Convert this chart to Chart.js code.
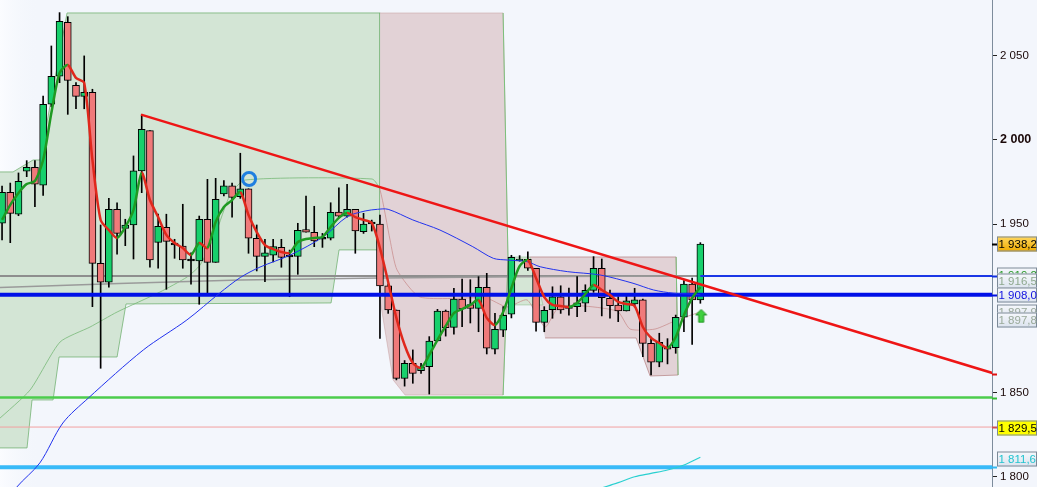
<!DOCTYPE html>
<html>
<head>
<meta charset="utf-8">
<script src="https://cdn.jsdelivr.net/npm/chart.js@4.4.1/dist/chart.umd.min.js"></script>
<style>
  html, body { margin: 0; padding: 0; background: #f3f6fc; }
  #wrap { width: 1037px; height: 487px; position: relative; }
</style>
</head>
<body>
<div id="wrap"><canvas id="c"></canvas></div>
<script>
// daily candles, left to right
const opens = [1950.5,1968.9,1955.9,1981.4,1983.8,1973.1,2021.2,2037.8,2069.8,2032.4,2025.9,2028.3,1926.7,1915.5,1958.8,1947.5,1949.5,1981.6,2005.5,1939.2,1948.1,1937.6,1937.0,1928.1,1928.1,1952.9,1927.3,1967.9,1972.8,1966.3,1971.0,1941.6,1930.9,1931.5,1936.2,1930.5,1930.9,1946.7,1945.2,1941.0,1941.6,1957.2,1954.7,1958.8,1945.5,1950.1,1950.1,1913.3,1899.0,1858.4,1867.4,1863.0,1865.3,1880.6,1898.4,1888.7,1905.5,1902.2,1900.0,1912.5,1875.7,1887.1,1896.5,1928.1,1929.1,1923.8,1891.7,1899.2,1906.9,1900.0,1901.0,1903.0,1910.7,1923.8,1906.0,1902.0,1898.4,1902.6,1905.0,1879.2,1868.0,1877.2,1876.6,1894.7,1914.4,1905.0];
const highs = [1972.6,1974.4,1980.4,1987.7,1987.7,2026.1,2055.8,2075.6,2073.2,2034.0,2049.9,2030.1,1949.5,1965.3,1962.7,1952.9,1990.5,2015.0,2005.5,1955.9,1955.9,1941.0,1961.8,1933.0,1954.8,1976.6,1977.2,1975.8,1974.4,1992.1,1971.0,1949.5,1941.0,1941.0,1941.0,1934.6,1950.5,1966.7,1960.6,1944.5,1962.7,1971.6,1973.7,1958.8,1956.4,1952.4,1955.4,1914.5,1899.0,1869.0,1875.3,1867.4,1883.2,1899.4,1899.0,1911.9,1917.4,1917.0,1918.8,1920.8,1897.0,1901.0,1931.5,1931.3,1933.6,1923.8,1901.0,1912.8,1913.4,1912.0,1918.8,1914.0,1930.7,1929.3,1910.9,1906.9,1907.3,1911.9,1905.5,1883.0,1885.2,1882.0,1896.0,1916.5,1918.0,1939.0];
const lows = [1940.6,1939.0,1955.0,1978.2,1960.4,1967.1,2019.7,2034.0,2015.2,2018.5,2018.5,1901.0,1864.4,1912.5,1932.1,1937.2,1929.3,1968.7,1924.4,1923.9,1911.3,1929.7,1923.8,1914.3,1902.4,1909.3,1927.3,1966.7,1954.1,1965.3,1932.7,1922.2,1915.8,1927.5,1924.4,1906.9,1920.2,1945.3,1936.6,1936.2,1940.6,1953.8,1954.2,1932.7,1944.5,1945.9,1882.2,1897.0,1857.5,1853.8,1855.5,1861.4,1849.1,1880.6,1883.5,1884.6,1889.1,1891.3,1886.1,1872.9,1872.9,1883.2,1894.3,1928.0,1922.5,1886.5,1886.1,1894.1,1897.0,1896.0,1895.0,1898.0,1909.5,1895.5,1894.1,1892.1,1898.4,1900.8,1871.3,1860.4,1865.3,1867.0,1873.3,1886.1,1878.6,1903.0];
const closes = [1968.9,1956.4,1975.4,1983.8,1973.7,2021.2,2037.8,2070.4,2035.4,2025.9,2028.3,1926.7,1915.5,1958.8,1944.5,1949.5,1981.6,2006.3,1928.7,1948.7,1939.8,1937.6,1928.7,1928.1,1952.9,1927.3,1964.7,1972.8,1965.9,1971.0,1941.6,1930.9,1933.0,1936.6,1930.3,1930.5,1946.3,1945.3,1940.0,1941.0,1957.0,1954.8,1958.8,1945.9,1950.1,1950.1,1913.3,1899.0,1858.4,1867.4,1861.4,1865.3,1880.6,1898.4,1888.5,1905.5,1899.6,1900.0,1912.5,1876.3,1887.5,1895.9,1930.3,1929.1,1923.8,1891.7,1898.8,1906.9,1899.0,1901.4,1903.2,1910.7,1923.8,1906.4,1901.6,1898.4,1904.5,1905.0,1879.2,1868.0,1879.8,1875.8,1894.7,1914.4,1905.0,1938.2];

// short moving average (red falling / green rising)
const fastMa = [1952.5,1961.4,1968.5,1973.8,1975.6,1988.1,2016.0,2039.8,2044.5,2036.8,2033.8,1988.1,1952.5,1946.5,1941.8,1948.3,1958.4,1980.4,1964.3,1954.2,1943.6,1938.8,1935.8,1931.7,1938.8,1935.8,1951.3,1960.2,1964.3,1969.1,1955.4,1945.3,1937.6,1935.2,1933.5,1932.9,1939.4,1941.2,1941.8,1942.4,1948.3,1953.7,1956.6,1954.2,1952.5,1950.7,1935.8,1915.6,1894.3,1878.2,1867.5,1864.6,1872.3,1881.2,1889.5,1897.2,1899.6,1902.0,1905.0,1894.3,1890.1,1897.8,1912.1,1925.1,1928.7,1918.0,1906.7,1902.0,1901.4,1900.8,1903.2,1908.5,1913.9,1910.9,1907.9,1903.8,1902.6,1901.4,1888.9,1882.4,1879.4,1876.5,1883.0,1896.0,1906.1,1912.7];

// long moving average (blue)
const slowMaX = [0.9,1.8,4.6,7.4,10.5,17.2,22.5,26.5,29.0,31.4,35.1,39.1,42.0,44.2,45.7,47.0,50.0,53.3,57.3,59.8,61.5,63.9,65.5,68.8,72.8,76.8,79.3,81.7,83.8,85.0];
const slowMaY = [1786.2,1793.9,1808.2,1831.9,1846.7,1875.3,1893.1,1909.1,1918.3,1924.5,1931.7,1942.5,1954.4,1957.8,1958.8,1958.8,1952.5,1946.5,1936.6,1929.7,1928.7,1927.7,1924.7,1921.8,1919.8,1914.9,1910.9,1909.0,1908.5,1908.0];

// cyan indicator line (bottom right)
const cyanX = [71.5,75,77,79,81,83,85];
const cyanY = [1791.0,1796.5,1800.0,1802.0,1804.0,1807.0,1811.6];

// trailing band line
const bandX = [-0.5,3.41,7.06,10.71,14.0,19.23,22.52,24.1,25.93,27.75,29.58,45.04,46.01,47.23,48.08,50.88,58.92,61.47,63.91,66.10,67.93,74.86,76.44,79.49,82.17,84.97];
const bandY = [1833.7,1851.5,1880.0,1888.9,1897.8,1909.7,1918.6,1925.7,1943.6,1967.3,1976.2,1976.8,1970.3,1940.6,1922.8,1906.7,1906.1,1900.8,1905.0,1888.9,1901.4,1898.4,1887.7,1887.7,1893.1,1897.8];

// slow grey curve
const greyX = [-0.5,28.97,63.06,84.97];
const greyY = [1912.4,1916.8,1918.8,1919.2];

// shaded zones (index, price)
const greenZoneX = [-0.5,1.34,3.77,4.63,7.91,46.01,46.01,41.02,40.05,15.09,14.0,6.94,6.21,3.65,3.04,-0.5];
const greenZoneY = [1981.0,1981.0,1988.1,1988.1,2075.4,2075.4,1934.7,1934.7,1903.2,1902.6,1871.1,1871.1,1845.6,1845.6,1817.1,1817.1];
const pinkZoneX = [46.01,60.99,61.59,60.99,49.06,47.6,46.01];
const pinkZoneY = [2075.4,2075.4,1928.7,1848.5,1848.5,1857.5,1905.0];
const greenZone2X = [61.59,64.27,65.85,61.59];
const greenZone2Y = [1930.5,1930.5,1902.0,1902.0];
const pinkZone2X = [64.27,82.05,82.29,78.88,77.18,66.10];
const pinkZone2Y = [1930.5,1930.5,1860.4,1859.8,1882.4,1882.4];
const edgeX = [60.99,61.59,60.99];
const edgeY = [2075.4,1928.7,1848.5];
const edge2X = [82.05,82.29];
const edge2Y = [1930.5,1860.4];

// trend line
const trendX = [16.92, 121];
const trendY = [2015.0, 1860.9];

// horizontal levels
const levelBlue = 1908.0;
const levelUpper = 1919.2;
const levelGreen = 1847.0;
const levelPink = 1829.5;
const levelCyan = 1805.7;

// markers
const circleAt = {x: 30.07, y: 1976.8};
const arrowAt = {x: 85.1, y: 1895.5};

// axis
const axisTicks = [1800, 1850, 1950, 2000, 2050];
const xMin = -0.25, xMax = 120.5;
const yMin = 1793.9, yMax = 2083.1;

// price tags on the right axis
const tagValues = [1938.2, 1919.2, 1916.5, 1908.0, 1897.9, 1897.8, 1829.5, 1811.6];
const tagInk = ['#000', '#2a9a2a', '#8ea88e', '#1010e0', '#9aa89a', '#9aaa9a', '#000', '#22c4d0'];
const tagFill = ['gold', 'pale', 'pale', 'pale', 'pale', 'pale', 'yellow', 'pale'];
const tagShift = [0, -1, 0, 0, 0, 8, 1, 2];

const markValues = [1938.2, 1919.2, 1908.0, 1860.9, 1847.0, 1829.5, 1805.7];
const markColors = ['#000', '#1030e0', '#0010e0', '#e01010', '#33bb33', '#d05050', '#33b8f0'];

function pts(xs, ys) { return xs.map((x, i) => ({x: x, y: ys[i]})); }
function fmtPrice(v, dec) {
  const th = Math.floor(v / 1000);
  let rest = (v - th * 1000).toFixed(dec);
  rest = rest.padStart(dec ? 5 : 3, '0').replace('.', ',');
  return th + ' ' + rest;
}

const bodies = opens.map((o, i) => ({x: i, y: [Math.min(o, closes[i]), Math.max(o, closes[i])]}));
const bodyColors = opens.map((o, i) => closes[i] > o ? '#17d06c' : (closes[i] < o ? '#f07a7a' : '#000'));
const wicks = highs.map((h, i) => ({x: i, y: [lows[i], h]}));

function hline(v, x0, x1, color, w, order) {
  return {type: 'line', data: [{x: x0, y: v}, {x: x1, y: v}], borderColor: color, borderWidth: w,
    pointRadius: 0, fill: false, order: order};
}

function arrowImg() {
  const c = document.createElement('canvas');
  c.width = 13; c.height = 15;
  const g = c.getContext('2d');
  g.beginPath();
  g.moveTo(6.5, 1); g.lineTo(12, 6.5); g.lineTo(9, 6.5); g.lineTo(9, 14);
  g.lineTo(4, 14); g.lineTo(4, 6.5); g.lineTo(1, 6.5); g.closePath();
  g.fillStyle = '#3fd03f'; g.fill();
  g.strokeStyle = '#1f8f1f'; g.lineWidth = 1; g.stroke();
  return c;
}

const FONT = '"Liberation Sans", Arial, sans-serif';

const decor = {
  id: 'decor',
  beforeDraw(chart) {
    const ctx = chart.ctx;
    ctx.save();
    ctx.fillStyle = '#f3f6fc';
    ctx.fillRect(0, 0, chart.width, chart.height);
    const g = ctx.createLinearGradient(0, 0, 40, 0);
    g.addColorStop(0, '#fbfcff');
    g.addColorStop(1, 'rgba(243,246,252,0)');
    ctx.fillStyle = g;
    ctx.fillRect(0, 0, 40, chart.height);
    ctx.restore();
  },
  afterDraw(chart) {
    const ctx = chart.ctx, ys = chart.scales.y, right = chart.chartArea.right;
    ctx.save();
    markValues.forEach((v, i) => {
      const py = Math.round(ys.getPixelForValue(v)) + 0.5;
      ctx.strokeStyle = markColors[i];
      ctx.lineWidth = 2;
      ctx.beginPath(); ctx.moveTo(right, py); ctx.lineTo(right + 5, py); ctx.stroke();
    });
    ctx.font = '11.5px ' + FONT;
    ctx.textBaseline = 'middle';
    tagValues.forEach((v, i) => {
      const cy = Math.round(ys.getPixelForValue(v)) + tagShift[i];
      const x = right + 5, w = 40, h = 15, top = cy - 7.5;
      let fill;
      if (tagFill[i] === 'gold') {
        fill = ctx.createLinearGradient(0, top, 0, top + h);
        fill.addColorStop(0, '#ffd860'); fill.addColorStop(1, '#eeaa00');
      } else if (tagFill[i] === 'yellow') {
        fill = '#ffff00';
      } else {
        fill = ctx.createLinearGradient(0, top, 0, top + h);
        fill.addColorStop(0, '#f6f8fc'); fill.addColorStop(1, '#dbe3ee');
      }
      ctx.fillStyle = fill;
      ctx.fillRect(x, top, w, h);
      ctx.strokeStyle = '#7c8a98';
      ctx.lineWidth = 1;
      ctx.strokeRect(x + 0.5, top + 0.5, w - 1, h - 1);
      ctx.fillStyle = tagInk[i];
      ctx.fillText(fmtPrice(v, 1), x + 1.5, cy + 0.5);
    });
    ctx.restore();
  }
};

new Chart(document.getElementById('c'), {
  type: 'bar',
  data: {
    datasets: [
      {type: 'line', data: pts(greenZoneX, greenZoneY), fill: 'shape', backgroundColor: '#d3e5d5',
        borderColor: 'rgba(110,175,110,0.75)', borderWidth: 1, pointRadius: 0, order: 20},
      {type: 'line', data: pts(pinkZoneX, pinkZoneY), fill: 'shape', backgroundColor: '#e2d2d6',
        borderColor: 'rgba(190,140,140,0.4)', borderWidth: 1, pointRadius: 0, order: 19},
      {type: 'line', data: pts(greenZone2X, greenZone2Y), fill: 'shape', backgroundColor: '#d5e6d6',
        borderColor: 'rgba(110,175,110,0.4)', borderWidth: 1, pointRadius: 0, order: 18},
      {type: 'line', data: pts(pinkZone2X, pinkZone2Y), fill: 'shape', backgroundColor: '#e2d2d6',
        borderColor: 'rgba(170,110,110,0.6)', borderWidth: 1, pointRadius: 0, order: 18},
      {type: 'line', data: pts(edgeX, edgeY), borderColor: '#7cc07c', borderWidth: 1, pointRadius: 0, fill: false, order: 17},
      {type: 'line', data: pts(edge2X, edge2Y), borderColor: '#7cc07c', borderWidth: 1, pointRadius: 0, fill: false, order: 17},
      {type: 'line', data: pts(bandX, bandY), borderWidth: 1, pointRadius: 0, fill: false, tension: 0.2, order: 16,
        segment: {borderColor: c => c.p0.parsed.x >= 45.9 ? 'rgba(200,140,140,0.75)' : 'rgba(120,185,120,0.8)'}},
      hline(levelPink, xMin - 1, xMax + 1, '#f2a0a0', 1, 15),
      {type: 'line', data: pts(greyX, greyY), borderColor: '#9a9a9a', borderWidth: 1.5, pointRadius: 0, fill: false, tension: 0.3, order: 15},
      hline(levelUpper, xMin - 1, 85, '#8e8e8e', 2, 15),
      {type: 'bar', data: wicks, backgroundColor: '#000', barThickness: 1, grouped: false, borderWidth: 0, order: 12},
      {type: 'bar', data: bodies, backgroundColor: bodyColors, borderColor: '#000', borderWidth: 1,
        borderSkipped: false, barThickness: 7, minBarLength: 2, grouped: false, order: 11},
      hline(levelUpper, 85, xMax + 1, '#1a36e6', 2, 8),
      hline(levelBlue, xMin - 1, xMax + 1, '#0010e8', 4, 8),
      hline(levelGreen, xMin - 1, xMax + 1, '#4ccc4c', 2.5, 8),
      hline(levelCyan, xMin - 1, xMax + 1, '#38baf8', 4, 8),
      {type: 'line', data: pts(cyanX, cyanY), borderColor: '#2ad0d0', borderWidth: 1.2, pointRadius: 0, fill: false, tension: 0.3, order: 7},
      {type: 'line', data: pts(slowMaX, slowMaY), borderColor: '#2233ee', borderWidth: 1, pointRadius: 0, fill: false, tension: 0.3, order: 6},
      {type: 'line', data: pts(trendX, trendY), borderColor: '#ee1515', borderWidth: 2.5, pointRadius: 0, fill: false, order: 4},
      {type: 'line', data: fastMa.map((v, i) => ({x: i, y: v})), borderWidth: 2.5, pointRadius: 0, fill: false,
        tension: 0.25, order: 3,
        segment: {borderColor: c => c.p1.parsed.y >= c.p0.parsed.y ? '#1f9a22' : '#e0281c'}},
      {type: 'scatter', data: [circleAt], pointRadius: 6.5, borderWidth: 3, borderColor: '#1f7fe0',
        backgroundColor: 'rgba(0,0,0,0)', order: 1},
      {type: 'scatter', data: [arrowAt], pointStyle: arrowImg(), order: 1}
    ]
  },
  options: {
    responsive: true,
    maintainAspectRatio: false,
    animation: false,
    events: [],
    layout: {padding: 0, autoPadding: false},
    plugins: {legend: {display: false}, tooltip: {enabled: false}, title: {display: false}},
    scales: {
      x: {type: 'linear', min: xMin, max: xMax, display: false, offset: false},
      y: {
        position: 'right', min: yMin, max: yMax,
        grid: {drawOnChartArea: false, drawTicks: true, tickLength: 5, tickColor: '#222'},
        border: {display: true, color: '#7d8c9c', width: 1},
        ticks: {
          color: '#1a0808', padding: 3,
          font: c => (c.tick && c.tick.value === 2000)
            ? {family: FONT, size: 12.5, weight: 'bold'}
            : {family: FONT, size: 11.5},
          callback: v => fmtPrice(v, 0)
        },
        afterBuildTicks: s => { s.ticks = axisTicks.map(v => ({value: v})); },
        afterFit: s => { s.width = 45; s.paddingTop = 0; s.paddingBottom = 0; }
      }
    }
  },
  plugins: [decor]
});
</script>
</body>
</html>
